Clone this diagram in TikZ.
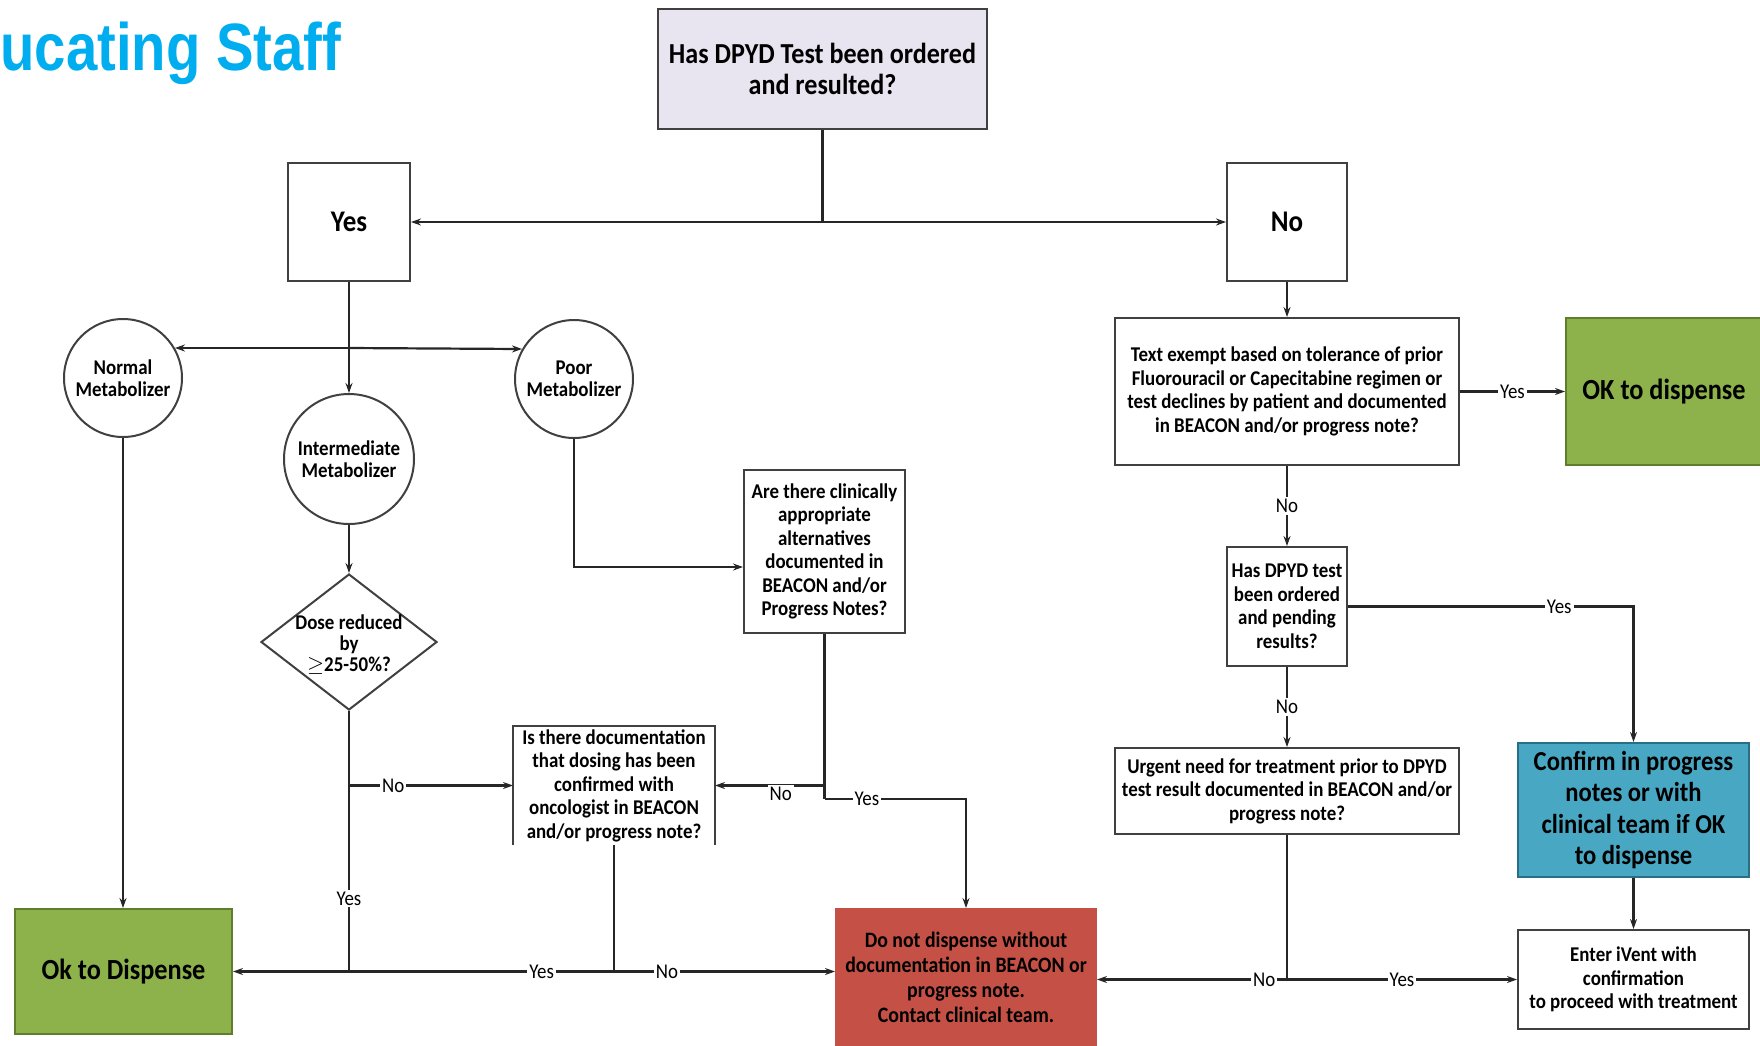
\documentclass[tikz,border=0pt]{standalone}
\usepackage{fontspec}
\setmainfont{Carlito}[FakeStretch=0.9]
\newfontfamily\titlefont{Liberation Sans}[FakeStretch=0.84]
\usetikzlibrary{arrows.meta,calc,shapes.geometric}
\definecolor{titleblue}{RGB}{0,174,239}
\definecolor{lav}{RGB}{232,229,240}
\definecolor{okgreen}{RGB}{141,178,76}
\definecolor{okgreenline}{RGB}{95,125,45}
\definecolor{stopred}{RGB}{196,80,70}
\definecolor{teal}{RGB}{72,168,196}
\definecolor{tealline}{RGB}{40,110,135}
\begin{document}
\begin{tikzpicture}[x=0.5pt,y=-0.5pt,
  box/.style={draw=black!75, line width=1pt, fill=white, align=center, inner sep=1pt,
              font=\bfseries\fontsize{10.5}{11.75}\selectfont},
  circ/.style={circle, draw=black!75, line width=1pt, fill=white, align=center, inner sep=0pt,
              font=\bfseries\fontsize{10.5}{11}\selectfont},
  ln/.style={line width=1.1pt, draw=black!85},
  arr/.style={line width=1.1pt, draw=black!85, -{Stealth[length=5pt,width=3.5pt]}},
  lab/.style={fill=white, inner sep=1pt, font=\fontsize{10.5}{12}\selectfont}]
\useasboundingbox (0,0) rectangle (1760,1045);

\node[anchor=base west, inner sep=0pt, text=titleblue,
      font=\titlefont\bfseries\fontsize{33.5}{36}\selectfont] (title) at (0,70.5) {ucating Staff};

% top part
\node[box, fill=lav, minimum width=164.5pt, minimum height=60pt,
      font=\bfseries\fontsize{14.5}{15.5}\selectfont] (top) at (822.5,69) {Has DPYD Test been ordered\\and resulted?};
\node[box, minimum width=61pt, minimum height=59pt, font=\bfseries\fontsize{15}{18}\selectfont] (yes) at (349,222) {Yes};
\node[box, minimum width=60pt, minimum height=59pt, font=\bfseries\fontsize{15}{18}\selectfont] (no) at (1287,222) {No};

% metabolizers
\node[circ, minimum size=59pt] (normal) at (123,378) {Normal\\Metabolizer};
\node[circ, minimum size=65pt] (inter) at (349,459) {Intermediate\\Metabolizer};
\node[circ, minimum size=59pt] (poor) at (574,379) {Poor\\Metabolizer};

\node[diamond, draw=black!75, line width=1pt, fill=white, minimum width=88pt, minimum height=68pt, inner sep=0pt] (dia) at (349,642) {};
\node[align=center, inner sep=0pt, font=\bfseries\fontsize{10.5}{10.5}\selectfont] (diat) at (349,645) {Dose reduced\\by\\$\geq$25-50\%?};

\node[box, draw=none, inner sep=0pt, minimum width=100pt, minimum height=58.5pt] (doc) at (614,785.5)
  {Is there documentation\\that dosing has been\\confirmed with\\oncologist in BEACON\\and/or progress note?};
\draw[line width=1pt, draw=black!75] (doc.south west) -- (doc.north west) -- (doc.north east) -- (doc.south east);

\node[box, minimum width=80.5pt, minimum height=81.5pt] (are) at (824.5,551.5)
  {Are there clinically\\appropriate\\alternatives\\documented in\\BEACON and/or\\Progress Notes?};

\node[box, fill=okgreen, draw=okgreenline, minimum width=108.5pt, minimum height=62.5pt,
      font=\bfseries\fontsize{14.6}{17}\selectfont] (ok) at (123.5,971.5) {Ok to Dispense};

\node[box, fill=stopred, draw=stopred, minimum width=130pt, minimum height=68pt,
      font=\bfseries\fontsize{11}{12.5}\selectfont] (red) at (966,977)
  {Do not dispense without\\documentation in BEACON or\\progress note.\\Contact clinical team.};

% right part
\node[box, minimum width=172pt, minimum height=73.5pt] (exempt) at (1287,391.5)
  {Text exempt based on tolerance of prior\\Fluorouracil or Capecitabine regimen or\\test declines by patient and documented\\in BEACON and/or progress note?};
\node[box, fill=okgreen, draw=okgreenline, minimum width=98pt, minimum height=73.5pt,
      font=\bfseries\fontsize{14.6}{17}\selectfont] (okr) at (1664,391.5) {OK to dispense};
\node[box, minimum width=60pt, minimum height=59.5pt] (has) at (1287,606.5)
  {Has DPYD test\\been ordered\\and pending\\results?};
\node[box, minimum width=172pt, minimum height=43pt] (urgent) at (1287,791)
  {Urgent need for treatment prior to DPYD\\test result documented in BEACON and/or\\progress note?};
\node[box, fill=teal, draw=tealline, minimum width=115.5pt, minimum height=67pt,
      font=\bfseries\fontsize{13.7}{15.7}\selectfont] (confirm) at (1633.5,810)
  {Confirm in progress\\notes or with\\clinical team if OK\\to dispense};
\node[box, minimum width=115.5pt, minimum height=49.5pt] (enter) at (1633.5,979.5)
  {Enter iVent with\\confirmation\\to proceed with treatment};

% connectors
\draw[ln] (top.south) -- (top.south |- yes.east) coordinate (jtop);
\draw[arr] (jtop) -- (yes.east);
\draw[arr] (jtop) -- (no.west);

\draw[arr] (yes.south) -- (inter.north);
\coordinate (jm) at (yes.south |- normal.30);
\draw[arr] (jm) -- (normal.30);
\draw[arr] (jm) -- (poor.150);
\draw[arr] (inter.south) -- (dia.north);
\draw[arr] (normal.south) -- (normal.south |- ok.north);

\coordinate (jd) at (dia.south |- ok.east);
\draw[ln] (dia.south) -- node[lab, pos=0.72] (lyes2) {Yes} (jd);
\draw[arr] (dia.south |- doc.west) -- node[lab, pos=0.27] (lno2) {No} (doc.west);
\coordinate (jdoc) at (doc.south |- ok.east);
\draw[ln] (doc.south) -- (jdoc);
\draw[arr] (jdoc) -- node[lab, pos=0.19] (lyes3) {Yes} (ok.east);
\draw[arr] (jdoc) -- node[lab, pos=0.24] (lno3) {No} (red.west |- jdoc);

\draw[arr] (poor.south) |- ($(are.west)+(0,15.5)$);
\draw[ln] (are.south) -- ($(are.south)+(0,165)$) coordinate (ja);
\draw[arr] (are.south |- doc.east) -- node[lab, pos=0.4, yshift=-4pt] (lno4) {No} (doc.east);
\draw[arr] (ja) -| node[lab, pos=0.15] (lyes4) {Yes} (red.north);

\draw[arr] (no.south) -- (exempt.north);
\draw[arr] (exempt.east) -- node[lab] (lyes5) {Yes} (okr.west);
\draw[arr] (exempt.south) -- node[lab] (lno5) {No} (has.north);
\draw[arr] (has.east) -| node[lab, pos=0.37] (lyes6) {Yes} (confirm.north);
\draw[arr] (has.south) -- node[lab] (lno6) {No} (urgent.north);
\draw[arr] (confirm.south) -- (enter.north);
\coordinate (ju) at (urgent.south |- enter.west);
\draw[ln] (urgent.south) -- (ju);
\draw[arr] (ju) -- node[lab, pos=0.12] (lno7) {No} (red.east |- ju);
\draw[arr] (ju) -- node[lab, pos=0.5] (lyes7) {Yes} (enter.west);
\end{tikzpicture}
\end{document}
